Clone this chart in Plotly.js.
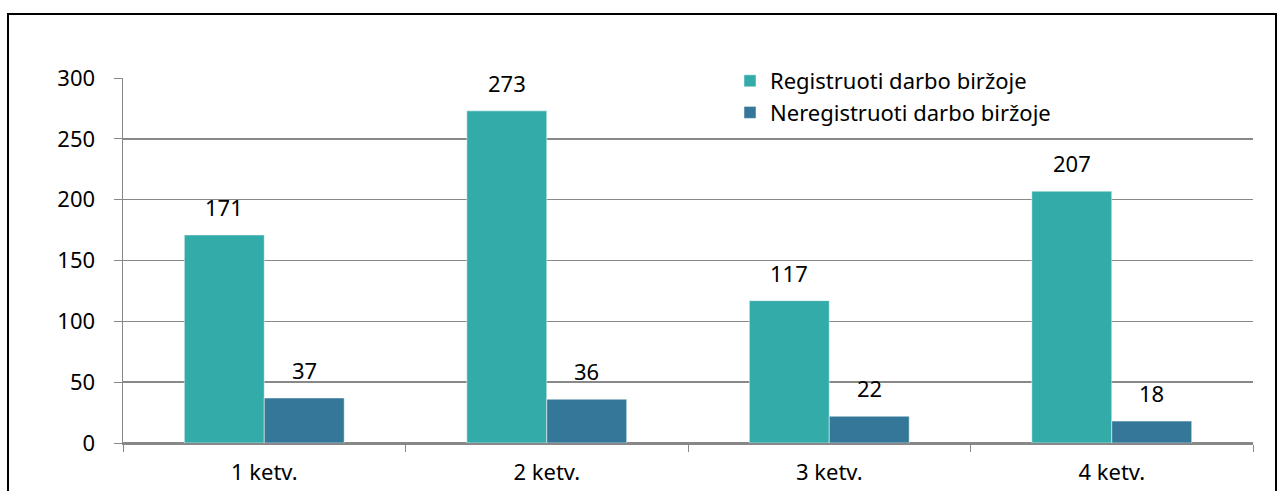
<!DOCTYPE html>
<html>
<head>
<meta charset="utf-8">
<script src="https://cdn.plot.ly/plotly-3.0.1.min.js"></script>
<style>
html,body{margin:0;padding:0;background:#fff;}
#chart{width:1277px;height:491px;}
</style>
</head>
<body>
<div id="chart"></div>
<script>
const categories = ["1 ketv.", "2 ketv.", "3 ketv.", "4 ketv."];
const registered = [171, 273, 117, 207];
const unregistered = [37, 36, 22, 18];
const seriesNames = ["Registruoti darbo biržoje", "Neregistruoti darbo biržoje"];
const colors = ["#33aba9", "#347799"];
const FONT = "'Noto Sans', sans-serif";

const traces = [
  {type: "bar", x: categories, y: registered, name: seriesNames[0], legendgroup: "a",
   marker: {color: colors[0], line: {color: "#ffffff", width: 0.5}}},
  {type: "bar", x: categories, y: unregistered, name: seriesNames[1], legendgroup: "b",
   marker: {color: colors[1], line: {color: "#ffffff", width: 0.5}}}
];

const annotations = [];
[registered, unregistered].forEach((vals, si) => {
  vals.forEach((v, i) => {
    annotations.push({x: categories[i], y: v, xref: "x", yref: "y",
      text: String(v), showarrow: false, xshift: si === 0 ? -40 : 40, yshift: 28,
      font: {family: FONT, size: 22, color: "#000"}});
  });
});

const W = 1130, H = 365, L = 123, T = 78;
const px = v => (v - L) / W;
const py = v => 1 - (v - T) / H;

const layout = {
  width: 1277, height: 491,
  margin: {l: L, r: 24, t: T, b: 48},
  paper_bgcolor: "#fff", plot_bgcolor: "#fff",
  barmode: "group", bargap: 0.434, bargroupgap: 0,
  font: {family: FONT, size: 22, color: "#000"},
  showlegend: true,
  legend: {x: px(730), y: py(60), xanchor: "left", yanchor: "top",
    bgcolor: "rgba(0,0,0,0)", font: {family: FONT, size: 22, color: "#000"},
    traceorder: "grouped", tracegroupgap: 0, itemwidth: 30},
  xaxis: {type: "category", tickson: "boundaries", ticks: "outside", ticklen: 7,
    tickcolor: "#888", showgrid: false, showline: true, linecolor: "#888", linewidth: 1.5,
    tickfont: {family: FONT, size: 22}, ticklabelstandoff: 9, fixedrange: true},
  yaxis: {range: [0, 300], dtick: 50, ticks: "outside", ticklen: 8, tickcolor: "#888",
    showgrid: true, gridcolor: "#888", gridwidth: 1.5, zeroline: true, zerolinecolor: "#888",
    zerolinewidth: 1.5, showline: true, linecolor: "#888", linewidth: 1.5,
    tickfont: {family: FONT, size: 22}, ticklabelstandoff: 14, fixedrange: true},
  annotations: annotations,
  shapes: [
    {type: "rect", xref: "paper", yref: "paper",
     x0: px(8), x1: px(1276), y0: -0.3, y1: py(14),
     line: {color: "#000", width: 2}, fillcolor: "rgba(0,0,0,0)", layer: "below"},
    {type: "rect", xref: "paper", yref: "paper",
     x0: px(662), x1: px(1192), y0: py(134), y1: py(64),
     line: {width: 0}, fillcolor: "#ffffff", opacity: 1, layer: "above"}
  ]
};

Plotly.newPlot("chart", traces, layout, {displayModeBar: false, staticPlot: true});
</script>
</body>
</html>
